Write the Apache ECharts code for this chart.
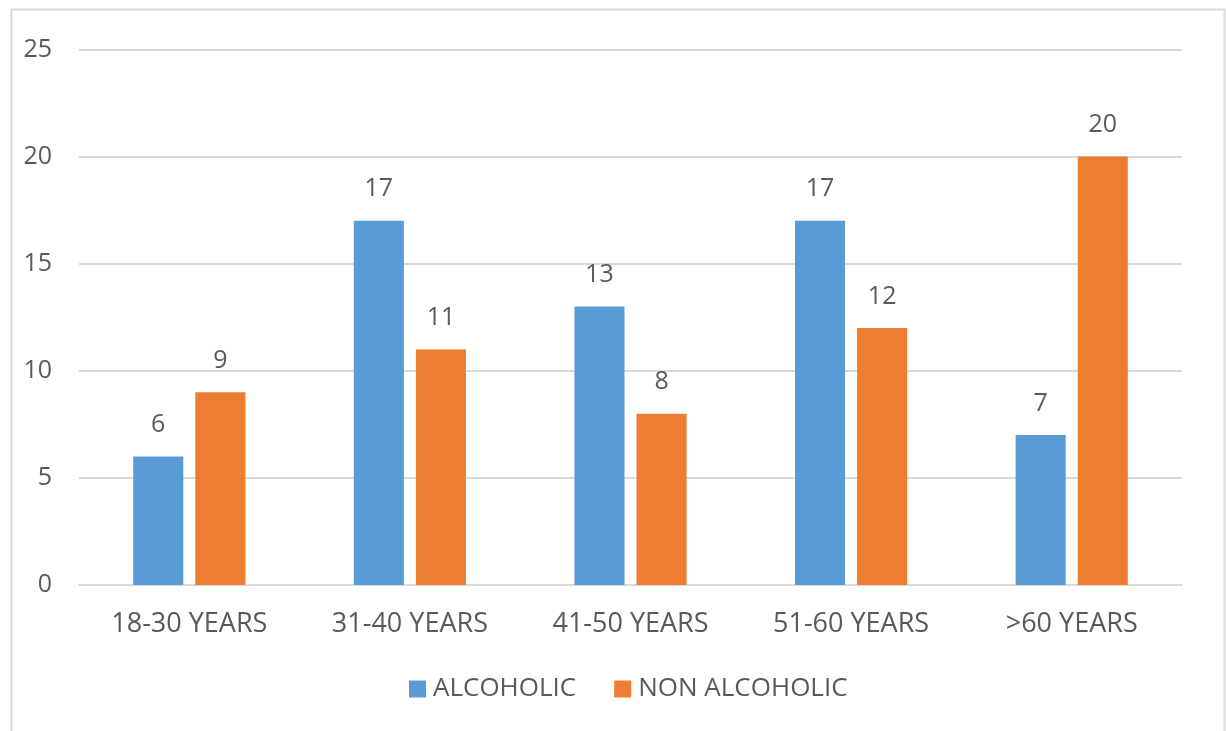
<!DOCTYPE html>
<html>
<head>
<meta charset="utf-8">
<script src="https://cdn.jsdelivr.net/npm/echarts@6/dist/echarts.min.js"></script>
<style>
  html, body { margin: 0; padding: 0; background: #fff; }
  #chart { width: 1226px; height: 731px; }
</style>
</head>
<body>
<div id="chart"></div>
<script>
// Age groups on the category axis
const categories = ['18-30 YEARS', '31-40 YEARS', '41-50 YEARS', '51-60 YEARS', '>60 YEARS'];
// Counts per age group
const alcoholic = [6, 17, 13, 17, 7];
const nonAlcoholic = [9, 11, 8, 12, 20];
const seriesNames = ['ALCOHOLIC', 'NON ALCOHOLIC'];

const textColor = '#595959';
const fontFamily = '"Open Sans", "Liberation Sans", sans-serif';

const chart = echarts.init(document.getElementById('chart'), null, { renderer: 'canvas' });

const labelStyle = {
  show: true,
  position: 'top',
  distance: 19,
  color: textColor,
  fontSize: 25,
  fontFamily: fontFamily
};

chart.setOption({
  animation: false,
  backgroundColor: '#ffffff',
  graphic: [{
    type: 'rect',
    shape: { x: 11.5, y: 9.5, width: 1213, height: 740 },
    style: { fill: 'none', stroke: '#d9d9d9', lineWidth: 2 },
    silent: true,
    z: -1
  }],
  grid: { left: 79, right: 44, top: 49.5, bottom: 146, containLabel: false },
  legend: {
    bottom: 24,
    left: 404,
    itemWidth: 17,
    itemHeight: 17,
    itemGap: 38,
    icon: 'rect',
    textStyle: { color: textColor, fontSize: 26, fontFamily: fontFamily, padding: [0, 0, 0, 2] },
    data: seriesNames
  },
  xAxis: {
    type: 'category',
    data: categories,
    axisLine: { show: true, lineStyle: { color: '#d9d9d9', width: 2 } },
    axisTick: { show: false },
    axisLabel: { color: textColor, fontSize: 27, fontFamily: fontFamily, margin: 26 }
  },
  yAxis: {
    type: 'value',
    min: 0,
    max: 25,
    interval: 5,
    axisLine: { show: false },
    axisTick: { show: false },
    splitLine: { lineStyle: { color: '#d9d9d9', width: 2 } },
    axisLabel: { color: textColor, fontSize: 25, fontFamily: fontFamily, margin: 27 }
  },
  series: [
    {
      name: seriesNames[0],
      type: 'bar',
      data: alcoholic,
      barWidth: '22.7%',
      barGap: '24%',
      itemStyle: { color: '#5b9bd5' },
      label: labelStyle
    },
    {
      name: seriesNames[1],
      type: 'bar',
      data: nonAlcoholic,
      barWidth: '22.7%',
      barGap: '24%',
      itemStyle: { color: '#ed7d31' },
      label: labelStyle
    }
  ]
});
</script>
</body>
</html>
